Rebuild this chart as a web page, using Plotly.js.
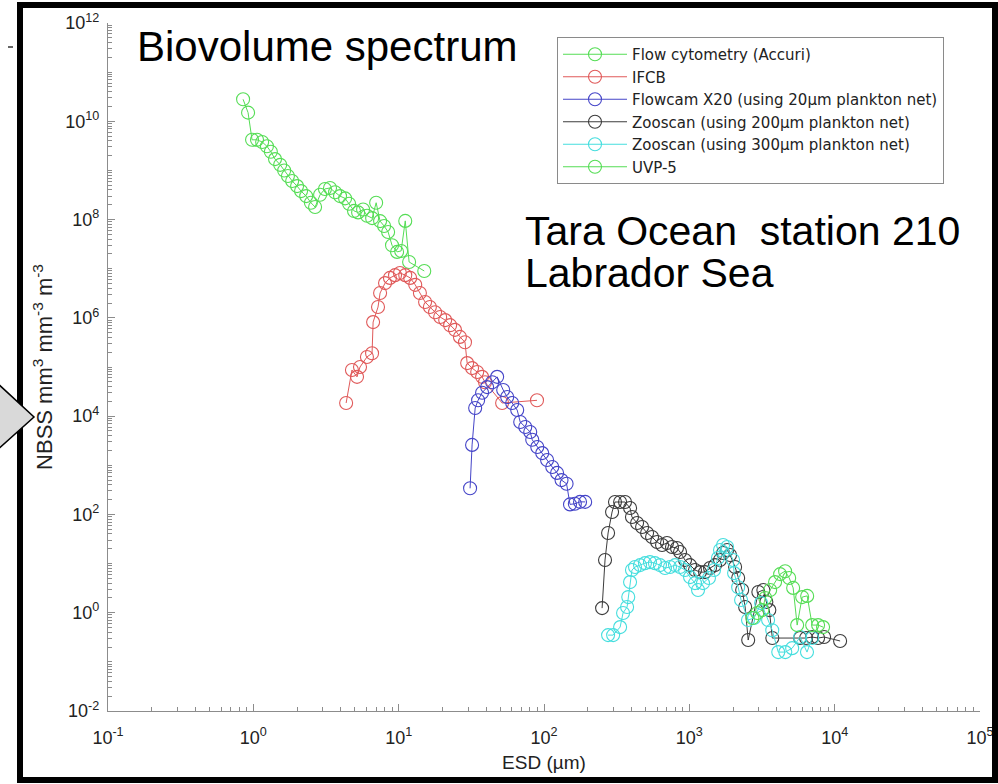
<!DOCTYPE html>
<html>
<head>
<meta charset="utf-8">
<script src="https://cdn.plot.ly/plotly-3.0.1.min.js"></script>
<style>
html,body{margin:0;padding:0;background:#fff;}
#chart{width:998px;height:784px;}
</style>
</head>
<body>
<div id="chart"></div>
<script>
// ---- Data (ESD in µm, NBSS in mm3 mm-3 m-3) ----
const seriesNames = ["Flow cytometry (Accuri)", "IFCB", "Flowcam X20 (using 20µm plankton net)",
  "Zooscan (using 200µm plankton net)", "Zooscan (using 300µm plankton net)", "UVP-5"];

const esdFlow = [0.85,0.92,0.98,1.06,1.15,1.24,1.32,1.41,1.53,1.63,1.73,1.85,2.0,2.13,2.31,2.49,2.66,2.88,3.11,3.37,3.65,3.95,4.28,4.56,4.93,5.26,5.69,6.06,6.57,7.0,7.45,7.94,8.46,9.0,9.75,10.4,11.1,11.8,15.0];
const nbssFlow = [2.8e10,1.5e10,4.2e9,4.2e9,3.8e9,3.1e9,2.4e9,1.7e9,1.3e9,1.0e9,7.7e8,6.1e8,4.8e8,3.8e8,3.0e8,2.2e8,1.8e8,3.2e8,4.2e8,4.4e8,3.6e8,3.0e8,2.7e8,2.1e8,1.5e8,1.4e8,1.6e8,1.2e8,1.07e8,2.2e8,9.3e7,7.4e7,5.6e7,3.0e7,2.2e7,2.3e7,9.4e7,1.37e7,9.0e6];

const esdIfcb = [4.35,4.77,5.17,5.42,6.05,6.56,6.67,7.21,7.45,8.06,8.71,9.44,10.2,11.1,12.0,13.0,14.0,15.2,16.4,17.8,19.3,20.9,22.6,24.4,26.4,28.6,29.6,32.0,34.7,37.5,39.3,51.5,89.5];
const nbssIfcb = [1.85e4,8.7e4,6.3e4,1.0e5,1.6e5,1.9e5,8.2e5,1.66e6,3.2e6,5.1e6,6.5e6,7.4e6,8.2e6,7.4e6,6.5e6,4.7e6,3.2e6,2.1e6,1.66e6,1.3e6,1.04e6,9.0e5,7.1e5,5.7e5,4.1e5,3.2e5,1.2e5,9.5e4,7.9e4,6.3e4,4.9e4,1.85e4,2.1e4];

const esdFlowcam = [31.0,32.0,33.6,35.2,37.5,40.6,44.0,47.6,52.4,55.8,60.4,65.4,68.6,74.3,80.4,83.0,89.9,97.2,105,114,123,132,143,151,163,177,192];
const nbssFlowcam = [3.4e2,2.6e3,1.46e4,2.1e4,3.0e4,3.9e4,4.9e4,6.3e4,3.4e4,2.45e4,1.85e4,1.33e4,7.6e3,6.0e3,4.75e3,3.3e3,2.35e3,1.77e3,1.28e3,9.2e2,7.0e2,5.0e2,4.2e2,1.6e2,1.65e2,1.8e2,1.8e2];

const esdZ200 = [251,263,276,294,308,334,361,391,403,437,473,512,554,600,649,702,760,822,863,934,1011,1094,1185,1282,1388,1503,1626,1707,1820,1906,2065,2168,2309,2421,2541,2985,3231,3388,3552,3724,5786,6360,7000,7690,8460,10900];
const nbssZ200 = [1.24,11.8,41.9,112,179,179,179,135,88.5,66.8,55.4,41.9,34.7,27.4,23.8,26.2,21.7,20.7,17.2,11.8,9.3,7.4,6.7,6.7,8.1,9.3,11.8,16.4,18.9,14.9,8.5,5.1,2.9,1.31,0.278,2.64,2.9,1.65,1.13,0.305,0.305,0.305,0.32,0.305,0.32,0.266];

const esdZ300 = [276,299,334,350,373,380,391,403,423,458,495,536,580,628,680,736,797,863,934,1011,1094,1148,1242,1365,1479,1574,1626,1707,1820,2000,2032,2168,2270,2534,2790,3119,3483,3720,4090,4575,5100,5786,6450,7000];
const nbssZ300 = [0.35,0.35,0.51,0.99,1.31,2.08,4.2,7.4,8.5,9.3,10.2,10.7,10.2,9.3,8.1,8.5,9.3,8.5,7.4,5.3,4.0,2.9,4.0,5.1,7.4,13.0,18.9,23.8,21.7,11.8,6.4,3.3,1.81,0.71,0.78,1.57,0.71,0.44,0.158,0.158,0.19,0.32,0.158,0.305];

const esdUvp = [2718,2935,3176,3330,3600,3890,4215,4560,4865,5180,5520,5975,6470,7000,7690,8320];
const nbssUvp = [0.78,0.99,1.13,1.99,2.9,4.2,6.1,7.0,5.1,3.2,0.56,2.08,2.2,0.56,0.56,0.51];

const xTickVals = [0.1,1,10,100,1000,10000,100000];
const xTickText = ["10<sup>-1</sup>","10<sup>0</sup>","10<sup>1</sup>","10<sup>2</sup>","10<sup>3</sup>","10<sup>4</sup>","10<sup>5</sup>"];
const yTickVals = [1e-2,1,1e2,1e4,1e6,1e8,1e10,1e12];
const yTickText = ["10<sup>-2</sup>","10<sup>0</sup>","10<sup>2</sup>","10<sup>4</sup>","10<sup>6</sup>","10<sup>8</sup>","10<sup>10</sup>","10<sup>12</sup>"];

const colors = ["#55dd55","#e05a5a","#4545c8","#3c3c3c","#45dede","#55dd55"];

// ---- minor tick positions (axis decoration) ----
const minorX = [];
for (let d = -1; d <= 4; d++) for (let k = 2; k <= 9; k++) minorX.push(k * Math.pow(10, d));
const minorY = [];
for (let d = -2; d <= 11; d++) for (let k = 1; k <= 9; k++) { if (k === 1 && d % 2 === 0) continue; minorY.push(k * Math.pow(10, d)); }

const xs = [esdFlow, esdIfcb, esdFlowcam, esdZ200, esdZ300, esdUvp];
const ys = [nbssFlow, nbssIfcb, nbssFlowcam, nbssZ200, nbssZ300, nbssUvp];

const traces = seriesNames.map((n, i) => ({
  type: "scatter", mode: "lines+markers", name: n,
  x: xs[i], y: ys[i],
  line: {color: colors[i], width: 1},
  marker: {symbol: "circle-open", size: 13, color: colors[i], line: {width: 1.1, color: colors[i]}}
}));

// pixel -> paper helpers for decorations
const L = 108, T = 23, W = 872, H = 688;
const PX = p => (p - L) / W;
const PY = p => (T + H - p) / H;

const layout = {
  width: 998, height: 784,
  margin: {l: L, r: 998 - L - W, t: T, b: 784 - T - H},
  paper_bgcolor: "#fff", plot_bgcolor: "#fff",
  font: {family: "Arial, 'Liberation Sans', sans-serif", color: "#222"},
  showlegend: true,
  legend: {
    x: PX(557), y: PY(37), xanchor: "left", yanchor: "top",
    bgcolor: "#fff", bordercolor: "#8a8a8a", borderwidth: 1,
    font: {family: "'DejaVu Sans', Arial, sans-serif", size: 15, color: "#222"},
    itemwidth: 64, tracegroupgap: 0
  },
  xaxis: {
    type: "log", range: [-1, 5], showgrid: false, zeroline: false,
    showline: true, linecolor: "#8c8c8c", linewidth: 1.2,
    ticks: "inside", ticklen: 7, tickcolor: "#8c8c8c",
    tickmode: "array", tickvals: xTickVals, ticktext: xTickText,
    tickfont: {size: 18, color: "#222"}, ticklabelstandoff: 10,
    minor: {tickmode: "array", tickvals: minorX, ticks: "inside", ticklen: 4, tickcolor: "#8c8c8c", showgrid: false},
    title: {text: "ESD (µm)", font: {size: 19, color: "#222"}, standoff: 9},
    automargin: false
  },
  yaxis: {
    type: "log", range: [-2, 12], showgrid: false, zeroline: false,
    showline: true, linecolor: "#8c8c8c", linewidth: 1.2,
    ticks: "inside", ticklen: 7, tickcolor: "#8c8c8c",
    tickmode: "array", tickvals: yTickVals, ticktext: yTickText,
    tickfont: {size: 18, color: "#222"}, ticklabelstandoff: 4,
    minor: {tickmode: "array", tickvals: minorY, ticks: "inside", ticklen: 4, tickcolor: "#8c8c8c", showgrid: false},
    title: {text: "NBSS mm<sup>3</sup> mm<sup>-3</sup> m<sup>-3</sup>", font: {size: 22, color: "#222"}, standoff: 6},
    automargin: false
  },
  annotations: [
    {xref: "paper", yref: "paper", x: PX(135), y: PY(47), xanchor: "left", yanchor: "middle", showarrow: false,
     text: "Biovolume spectrum", font: {size: 42, color: "#000"}},
    {xref: "paper", yref: "paper", x: PX(523), y: PY(231), xanchor: "left", yanchor: "middle", showarrow: false,
     text: "Tara Ocean\u00a0 station 210", font: {size: 41, color: "#000"}},
    {xref: "paper", yref: "paper", x: PX(523), y: PY(273), xanchor: "left", yanchor: "middle", showarrow: false,
     text: "Labrador Sea", font: {size: 41, color: "#000"}}
  ],
  shapes: [
    {type: "rect", xref: "paper", yref: "paper", x0: PX(20), x1: PX(995), y0: PY(780), y1: PY(5),
     line: {color: "#000", width: 6}, fillcolor: "rgba(0,0,0,0)", layer: "above"},
    {type: "path", xref: "paper", yref: "paper",
     path: `M ${PX(-5)} ${PY(381)} L ${PX(34)} ${PY(417)} L ${PX(-5)} ${PY(452)} Z`,
     fillcolor: "#d9d9d9", line: {color: "#000", width: 1.5}, layer: "above"},
    {type: "line", xref: "paper", yref: "paper", x0: PX(8), x1: PX(13), y0: PY(47), y1: PY(47),
     line: {color: "#666", width: 2}, layer: "above"}
  ]
};

Plotly.newPlot("chart", traces, layout, {displayModeBar: false, staticPlot: true});
</script>
</body>
</html>
